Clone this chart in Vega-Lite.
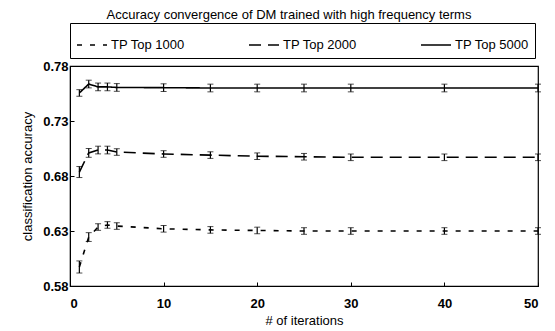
{
  "$schema": "https://vega.github.io/schema/vega-lite/v6.json",
  "width": 468,
  "height": 220,
  "padding": {"left": 21, "top": 8, "right": 10, "bottom": 0},
  "background": "white",
  "config": {
    "font": "Liberation Sans",
    "view": {"stroke": "black", "strokeWidth": 1.2},
    "axis": {"grid": false, "domainColor": "black", "tickColor": "black", "labelColor": "black", "titleColor": "black", "labelFontSize": 13, "labelFontWeight": "bold", "titleFontSize": 13, "titleFontWeight": "normal", "tickSize": -4}
  },
  "title": {"text": "Accuracy convergence of DM trained with high frequency terms", "fontSize": 13, "fontWeight": "normal", "color": "black", "anchor": "middle", "dx": -15, "offset": 1},
  "data": {"values": [
    {"x": 1, "series": "TP Top 1000", "acc": 0.5973, "err": 0.0055},
    {"x": 2, "series": "TP Top 1000", "acc": 0.6245, "err": 0.004},
    {"x": 3, "series": "TP Top 1000", "acc": 0.6336, "err": 0.003},
    {"x": 4, "series": "TP Top 1000", "acc": 0.6355, "err": 0.003},
    {"x": 5, "series": "TP Top 1000", "acc": 0.6345, "err": 0.003},
    {"x": 10, "series": "TP Top 1000", "acc": 0.632, "err": 0.003},
    {"x": 15, "series": "TP Top 1000", "acc": 0.631, "err": 0.003},
    {"x": 20, "series": "TP Top 1000", "acc": 0.6305, "err": 0.003},
    {"x": 25, "series": "TP Top 1000", "acc": 0.630, "err": 0.003},
    {"x": 30, "series": "TP Top 1000", "acc": 0.630, "err": 0.003},
    {"x": 40, "series": "TP Top 1000", "acc": 0.630, "err": 0.003},
    {"x": 50, "series": "TP Top 1000", "acc": 0.630, "err": 0.003},
    {"x": 1, "series": "TP Top 2000", "acc": 0.6836, "err": 0.005},
    {"x": 2, "series": "TP Top 2000", "acc": 0.701, "err": 0.004},
    {"x": 3, "series": "TP Top 2000", "acc": 0.7036, "err": 0.0035},
    {"x": 4, "series": "TP Top 2000", "acc": 0.7036, "err": 0.0035},
    {"x": 5, "series": "TP Top 2000", "acc": 0.7018, "err": 0.003},
    {"x": 10, "series": "TP Top 2000", "acc": 0.700, "err": 0.003},
    {"x": 15, "series": "TP Top 2000", "acc": 0.699, "err": 0.003},
    {"x": 20, "series": "TP Top 2000", "acc": 0.698, "err": 0.003},
    {"x": 25, "series": "TP Top 2000", "acc": 0.6975, "err": 0.003},
    {"x": 30, "series": "TP Top 2000", "acc": 0.697, "err": 0.003},
    {"x": 40, "series": "TP Top 2000", "acc": 0.697, "err": 0.003},
    {"x": 50, "series": "TP Top 2000", "acc": 0.697, "err": 0.003},
    {"x": 1, "series": "TP Top 5000", "acc": 0.7555, "err": 0.003},
    {"x": 2, "series": "TP Top 5000", "acc": 0.7636, "err": 0.0035},
    {"x": 3, "series": "TP Top 5000", "acc": 0.761, "err": 0.0035},
    {"x": 4, "series": "TP Top 5000", "acc": 0.761, "err": 0.0035},
    {"x": 5, "series": "TP Top 5000", "acc": 0.7605, "err": 0.0035},
    {"x": 10, "series": "TP Top 5000", "acc": 0.7603, "err": 0.0035},
    {"x": 15, "series": "TP Top 5000", "acc": 0.760, "err": 0.0035},
    {"x": 20, "series": "TP Top 5000", "acc": 0.760, "err": 0.0035},
    {"x": 25, "series": "TP Top 5000", "acc": 0.760, "err": 0.0035},
    {"x": 30, "series": "TP Top 5000", "acc": 0.760, "err": 0.0035},
    {"x": 40, "series": "TP Top 5000", "acc": 0.760, "err": 0.0035},
    {"x": 50, "series": "TP Top 5000", "acc": 0.760, "err": 0.0035}
  ]},
  "encoding": {
    "x": {"field": "x", "type": "quantitative", "scale": {"domain": [0, 50], "nice": false}, "axis": {"values": [0, 10, 20, 30, 40, 50], "title": "# of iterations", "titlePadding": 4, "labelPadding": 15}}
  },
  "layer": [
    {
      "mark": {"type": "line", "color": "black", "strokeWidth": 1.6},
      "encoding": {
        "y": {"field": "acc", "type": "quantitative", "title": "classification accuracy", "scale": {"domain": [0.58, 0.78], "nice": false, "zero": false}, "axis": {"values": [0.58, 0.63, 0.68, 0.73, 0.78], "format": ".2f", "labelPadding": 6, "titlePadding": 8}},
        "strokeDash": {"field": "series", "type": "nominal", "scale": {"domain": ["TP Top 1000", "TP Top 2000", "TP Top 5000"], "range": [[5, 8], [12, 7], [1, 0]]},
          "legend": {"title": null, "orient": "top", "direction": "horizontal", "symbolType": "stroke", "symbolSize": 900, "symbolStrokeColor": "black", "symbolStrokeWidth": 1.6, "labelFontSize": 13, "labelColor": "black", "columnPadding": 60, "padding": 6, "strokeColor": "black", "offset": 8, "labelOffset": 3}}
      }
    },
    {
      "mark": {"type": "errorbar", "ticks": {"size": 6, "color": "black"}, "rule": {"color": "black", "strokeWidth": 1.2}},
      "encoding": {
        "y": {"field": "acc", "type": "quantitative", "title": "classification accuracy"},
        "yError": {"field": "err"},
        "detail": {"field": "series"}
      }
    }
  ]
}
